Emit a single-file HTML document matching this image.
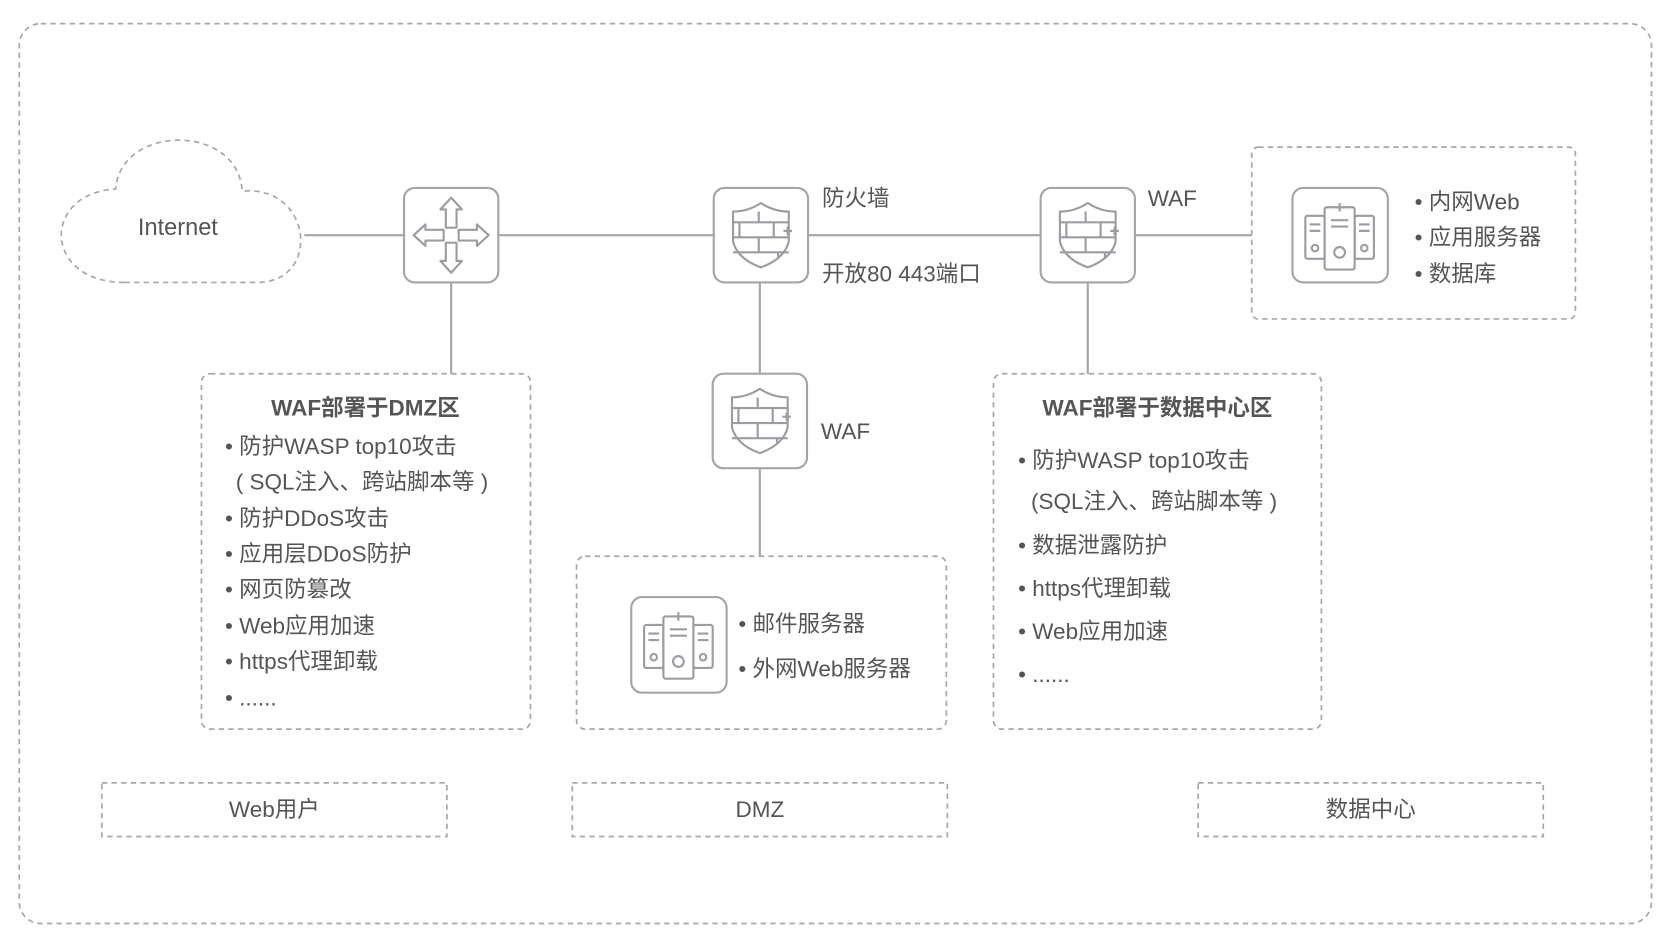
<!DOCTYPE html>
<html><head><meta charset="utf-8"><style>
html,body{margin:0;padding:0;background:#fff;}
svg{display:block;}
text{font-family:"Liberation Sans","Noto Sans CJK SC",sans-serif;fill:#555;font-size:21px;}
.d{fill:none;stroke:#a8a8a8;stroke-width:1.6;stroke-dasharray:5 4;}
.l{stroke:#a3a5a8;stroke-width:2;fill:none;}
.b{fill:#fff;stroke:#a3a5a8;stroke-width:2;}
.i{fill:none;stroke:#9a9da2;stroke-width:2;stroke-linejoin:round;}
</style></head><body>
<svg width="1674" height="945" viewBox="0 0 1562 880" preserveAspectRatio="none" xmlns="http://www.w3.org/2000/svg">
<defs>
<g id="shield">
<path class="i" d="M-26,-22 Q-12,-22 0,-30 Q12,-22 26,-22 V6 Q22,22 0,30 Q-22,22 -26,6 Z"/>
<path class="i" d="M-26,-12 H26 M-26,2 H26 M-26,16 H26 M-2,-22 V-12 M-20,-12 V2 M12,-12 V2 M-2,2 V16 M16,16 V22"/>
<path class="i" d="M25,-8 V0 M21,-4 H29"/>
</g>
<g id="server">
<rect class="i" x="-32" y="-20" width="18" height="40" rx="2"/>
<rect class="i" x="14" y="-20" width="18" height="40" rx="2"/>
<rect class="i" x="-14" y="-28" width="28" height="58" rx="2" style="fill:#fff"/>
<path class="i" d="M-28,-12 H-18 M-28,-6 H-18 M18,-12 H28 M18,-6 H28 M-8,-16 H8 M-8,-10 H8 M0,-32 V-24 M-4,-28 H4"/>
<circle class="i" cx="-23" cy="10" r="3"/><circle class="i" cx="23" cy="10" r="3"/><circle class="i" cx="0" cy="14" r="5"/>
</g>
</defs>
<rect class="d" x="18" y="22" width="1523" height="838" rx="20"/>
<path class="d" d="M116,263 C40,263 38,180 108,176 C112,116 222,114 226,178 C292,172 300,263 240,263 Z"/>
<text x="166" y="219" text-anchor="middle" style="font-size:22px">Internet</text>
<path class="l" d="M284,219 H1168 M421,263 V348 M709,263 V518 M1015,263 V348"/>
<rect class="b" x="377" y="175" width="88" height="88" rx="10"/>
<path class="i" d="M421,184 L411,195 H416 V212 H426 V195 H431 Z M421,254 L411,243 H416 V226 H426 V243 H431 Z M386,219 L397,209 V214 H414 V224 H397 V229 Z M456,219 L445,209 V214 H428 V224 H445 V229 Z"/>
<rect class="b" x="666" y="175" width="88" height="88" rx="10"/>
<use href="#shield" x="710" y="219"/>
<rect class="b" x="971" y="175" width="88" height="88" rx="10"/>
<use href="#shield" x="1015" y="219"/>
<rect class="b" x="665" y="348" width="88" height="88" rx="10"/>
<use href="#shield" x="709" y="392"/>
<text x="767" y="192">防火墙</text>
<text x="767" y="262">开放80 443端口</text>
<text x="1071" y="192">WAF</text>
<text x="766" y="409">WAF</text>
<rect class="d" x="1168" y="137" width="302" height="160" rx="6"/>
<rect class="b" x="1206" y="175" width="89" height="88" rx="10"/>
<use href="#server" x="1250" y="221"/>
<text x="1320" y="195">• 内网Web</text>
<text x="1320" y="228">• 应用服务器</text>
<text x="1320" y="262">• 数据库</text>
<rect class="d" x="188" y="348" width="307" height="331" rx="8"/>
<text x="341" y="387" text-anchor="middle" style="font-weight:bold;font-size:21px">WAF部署于DMZ区</text>
<text x="210" y="423">• 防护WASP top10攻击</text>
<text x="220" y="456">( SQL注入、跨站脚本等 )</text>
<text x="210" y="490">• 防护DDoS攻击</text>
<text x="210" y="523">• 应用层DDoS防护</text>
<text x="210" y="556">• 网页防篡改</text>
<text x="210" y="590">• Web应用加速</text>
<text x="210" y="623">• https代理卸载</text>
<text x="210" y="657">• ......</text>
<rect class="d" x="538" y="518" width="345" height="161" rx="8"/>
<rect class="b" x="589" y="556" width="89" height="89" rx="10"/>
<use href="#server" x="633" y="602"/>
<text x="689" y="588">• 邮件服务器</text>
<text x="689" y="630">• 外网Web服务器</text>
<rect class="d" x="927" y="348" width="306" height="331" rx="8"/>
<text x="1080" y="387" text-anchor="middle" style="font-weight:bold;font-size:21px">WAF部署于数据中心区</text>
<text x="950" y="436">• 防护WASP top10攻击</text>
<text x="962" y="474">(SQL注入、跨站脚本等 )</text>
<text x="950" y="515">• 数据泄露防护</text>
<text x="950" y="555">• https代理卸载</text>
<text x="950" y="595">• Web应用加速</text>
<text x="950" y="635">• ......</text>
<rect class="d" x="95" y="729" width="322" height="50"/>
<text x="256" y="761" text-anchor="middle">Web用户</text>
<rect class="d" x="534" y="729" width="350" height="50"/>
<text x="709" y="761" text-anchor="middle">DMZ</text>
<rect class="d" x="1118" y="729" width="322" height="50"/>
<text x="1279" y="761" text-anchor="middle">数据中心</text>
</svg>
</body></html>
